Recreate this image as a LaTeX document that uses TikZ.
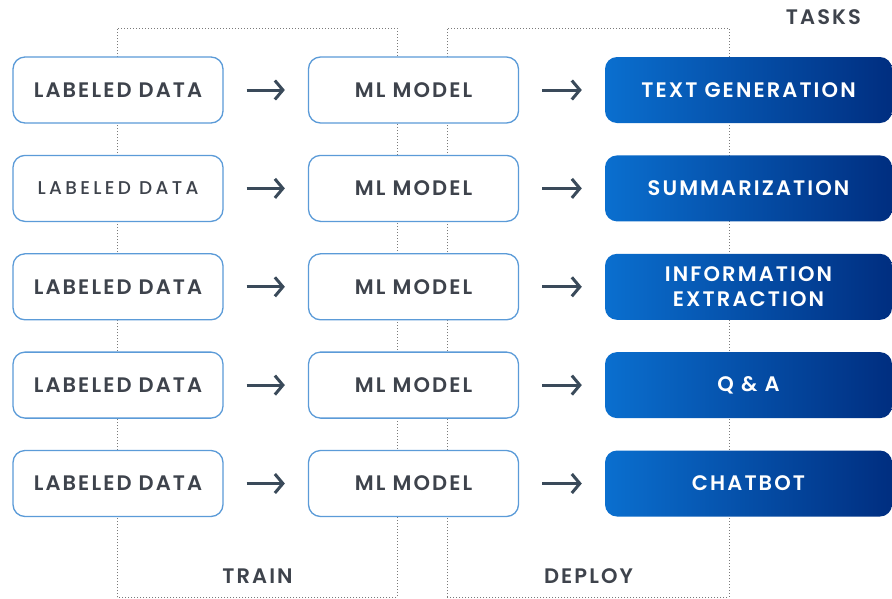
\documentclass[tikz,border=0pt]{standalone}
\usepackage{fontspec}
\usetikzlibrary{arrows.meta}
\newfontfamily\labfont{Poppins SemiBold}[LetterSpace=10]
\newfontfamily\lightlabfont{Poppins Medium}[LetterSpace=18]
\definecolor{inktext}{HTML}{3E434C}
\definecolor{boxline}{HTML}{5B9BD8}
\definecolor{arrowink}{HTML}{3A4A5A}
\definecolor{dotgray}{HTML}{7A7A7A}
\definecolor{gradleft}{HTML}{0A6FCF}
\definecolor{gradright}{HTML}{002E80}
\begin{document}
\begin{tikzpicture}[x=1pt,y=-1pt,
  lbl/.style={font=\labfont\fontsize{21}{24}\selectfont, text=inktext},
  databox/.style={draw=boxline, line width=1.3pt, fill=white, rounded corners=12pt,
    minimum width=210pt, minimum height=66pt, inner sep=0pt, lbl},
  lightdata/.style={font=\lightlabfont\fontsize{18.5}{22}\selectfont},
  taskbox/.style={rounded corners=12pt, left color=gradleft, right color=gradright,
    minimum width=287pt, minimum height=66pt, inner sep=0pt, align=center,
    font=\labfont\fontsize{21}{24}\selectfont, text=white},
  flow/.style={draw=arrowink, line width=3pt, shorten <=23pt, shorten >=23pt,
    -{Straight Barb[length=8pt,width=19pt]}},
  frame/.style={draw=dotgray, line width=1pt, dash pattern=on 1pt off 2pt}
]
\useasboundingbox (0,0) rectangle (892,598);
\fill[white] (0,0) rectangle (892,598);

% dotted frames for the train and deploy stages
\draw[frame] (117,597) -- (117,28) -- (397,28) -- (397,597) -- cycle;
\draw[frame] (447,597) -- (447,28) -- (729,28) -- (729,597) -- cycle;

% stage labels
\node[lbl] (tasks) at (823.5,17) {TASKS};
\node[lbl] (train) at (257.5,576) {TRAIN};
\node[lbl] (deploy) at (588.5,576) {DEPLOY};

% one row per task
\foreach \i/\y/\task/\dstyle in {1/90/TEXT GENERATION/{}, 2/188.4/SUMMARIZATION/lightdata,
    3/286.8/{INFORMATION\\[1pt]EXTRACTION}/{}, 4/385.1/Q \& A/{}, 5/483.5/CHATBOT/{}} {
  \node[databox,\dstyle] (l\i) at (118,\y) {LABELED DATA};
  \node[databox] (m\i) at (413.5,\y) {ML MODEL};
  \node[taskbox] (t\i) at (748.5,\y) {\task};
  \draw[flow] (l\i) -- (m\i);
  \draw[flow] (m\i) -- (t\i);
}
\end{tikzpicture}
\end{document}
